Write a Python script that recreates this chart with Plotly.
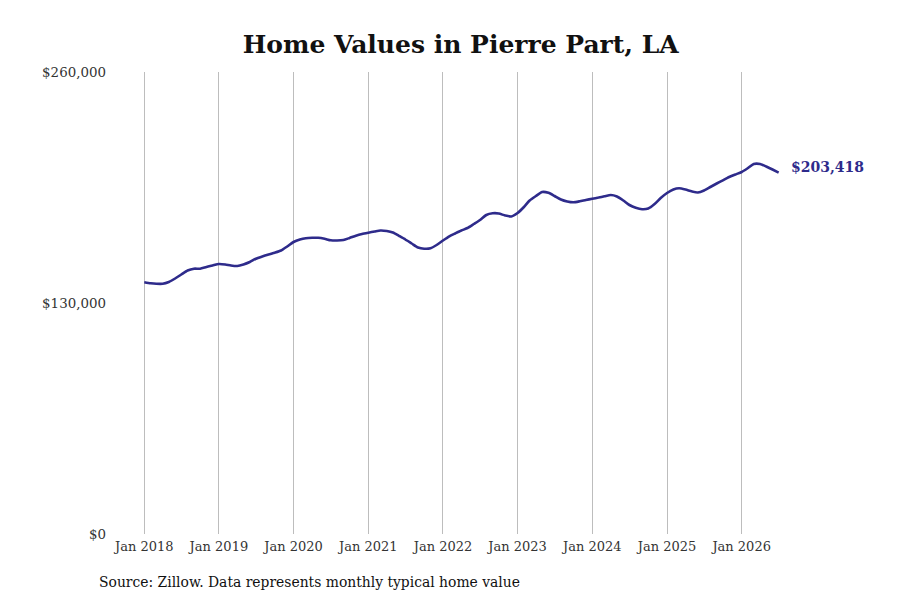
import plotly.graph_objects as go
import pandas as pd

dates = pd.date_range("2018-01-01", "2026-07-01", freq="MS")

values = [
    141650, 141080, 140800, 140800, 141820, 143790, 146040, 148290, 149300, 149300, 150260, 151100,
    151950, 151670, 151100, 150820, 151670, 153070, 154930, 156170, 157290, 158310, 159540, 161800,
    164330, 165730, 166470, 166690, 166690, 166130, 165290, 165170, 165450, 166580, 167870, 168830,
    169560, 170240, 170800, 170520, 169670, 167700, 165730, 163480, 161230, 160560, 160780, 162640,
    165170, 167540, 169110, 170800, 172210, 174460, 176710, 179520, 180480, 180370, 179240, 178680,
    180650, 184030, 187680, 190220, 192470, 192020, 190220, 188240, 187120, 186670, 187230, 187960,
    188640, 189320, 190050, 190780, 189930, 187680, 185150, 183570, 182790, 183180, 185710, 189090,
    191900, 193870, 194550, 193870, 192860, 192180, 193310, 195280, 197250, 199050, 200910, 202310,
    203720, 205970, 208220, 208220, 206820, 205130, 203418,
]

x_tick_vals = [f"{y}-01-01" for y in range(2018, 2027)]
x_tick_text = [f"Jan {y}" for y in range(2018, 2027)]
y_tick_vals = [0, 130000, 260000]
y_tick_text = ["$0", "$130,000", "$260,000"]

title_text = "Home Values in Pierre Part, LA"
source_text = "Source: Zillow. Data represents monthly typical home value"
last_label = "$203,418"

line_color = "#2e2b8b"
font_family = "DejaVu Serif"

fig = go.Figure()
fig.add_trace(go.Scatter(
    x=dates, y=values, mode="lines",
    line=dict(color=line_color, width=2.6, shape="spline", smoothing=0.6),
    hoverinfo="skip",
))

fig.add_annotation(
    x=dates[-1], y=values[-1], xref="x", yref="y",
    text=f"<b>{last_label}</b>", showarrow=False,
    xanchor="left", yanchor="middle", xshift=10, yshift=6,
    font=dict(family=font_family, size=14, color=line_color),
)

fig.add_annotation(
    x=-0.0238, y=-0.104, xref="paper", yref="paper",
    text=source_text, showarrow=False,
    xanchor="left", yanchor="middle",
    font=dict(family=font_family, size=13.9, color="#111111"),
)

fig.update_layout(
    width=900, height=600,
    paper_bgcolor="white", plot_bgcolor="white",
    margin=dict(l=105, r=123, t=64, b=74),
    showlegend=False,
    title=dict(
        text=f"<b>{title_text}</b>", x=0.503, xref="container", xanchor="center",
        y=0.94, yref="container", yanchor="middle",
        font=dict(family=font_family, size=25, color="#111111"),
    ),
    font=dict(family=font_family, size=13, color="#333333"),
    xaxis=dict(
        range=["2017-08-01", "2026-08-01"],
        tickvals=x_tick_vals, ticktext=x_tick_text,
        showgrid=True, gridcolor="#bdbdbd", gridwidth=1,
        zeroline=False, showline=False, ticks="",
        ticklabelstandoff=3,
        tickfont=dict(family=font_family, size=13, color="#333333"),
    ),
    yaxis=dict(
        range=[0, 260000],
        tickvals=y_tick_vals, ticktext=y_tick_text,
        showgrid=False, zeroline=False, showline=False, ticks="",
        ticklabelstandoff=6,
        tickfont=dict(family=font_family, size=13.4, color="#333333"),
    ),
)

fig.write_html("out.html")
